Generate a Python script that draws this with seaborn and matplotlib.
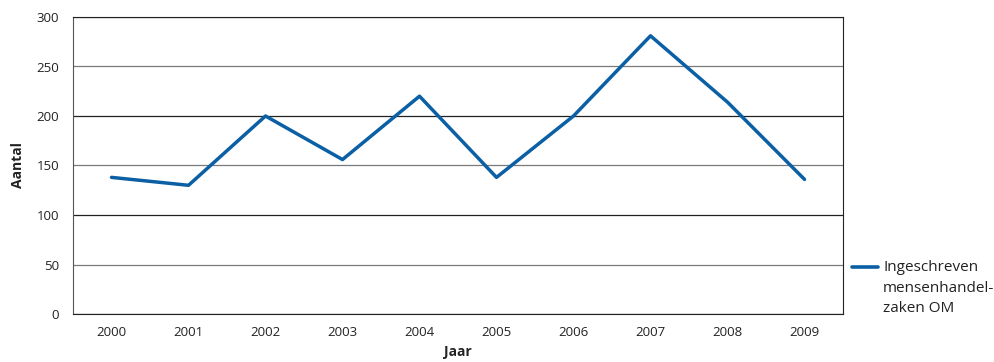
import matplotlib
matplotlib.use("Agg")
import matplotlib.pyplot as plt
import seaborn as sns
import pandas as pd
import numpy as np
from matplotlib.lines import Line2D

years = ["2000", "2001", "2002", "2003", "2004", "2005", "2006", "2007", "2008", "2009"]
cases = [138, 130, 200, 156, 220, 138, 200, 281, 214, 136]
series_name = "Ingeschreven\nmensenhandel-\nzaken OM"
y_ticks = [0, 50, 100, 150, 200, 250, 300]

sns.set_theme(style="white")
plt.rcParams['font.family'] = ['Open Sans', 'DejaVu Sans']

df = pd.DataFrame({"pos": np.arange(len(years)), "Aantal": cases, "serie": series_name})

fig = plt.figure(figsize=(9.95, 3.62), dpi=100)
ax = fig.add_axes([73/995, 1-314/362, (843-73)/995, (314-17)/362])

line_color = "#0b5fa5"
sns.lineplot(data=df, x="pos", y="Aantal", hue="serie", palette=[line_color],
             linewidth=2.5, ax=ax, legend=False)

ax.set_xlim(-0.5, len(years) - 0.5)
ax.set_ylim(0, 300)
ax.set_yticks(y_ticks)
ax.set_yticklabels([str(v) for v in y_ticks], fontsize=9.5, color="#222222")
ax.set_xticks(np.arange(len(years)))
ax.set_xticklabels(years, fontsize=9.5, color="#222222")
ax.set_xticks(np.arange(len(years) + 1) - 0.5, minor=True)
ax.tick_params(axis="x", which="major", length=0, pad=9)
ax.tick_params(axis="x", which="minor", length=7, width=0.8, color="#222222", direction="out")
ax.tick_params(axis="y", which="major", length=6, width=0.8, color="#222222", direction="out", pad=4)

ax.yaxis.grid(True, linewidth=0.9)
for v, gl in zip(y_ticks, ax.yaxis.get_gridlines()):
    gl.set_color("#222222" if v % 100 == 0 else "#7a7a7a")
ax.set_axisbelow(True)

for side in ["left", "right", "bottom", "top"]:
    ax.spines[side].set_visible(True)
    ax.spines[side].set_linewidth(0.8)
    ax.spines[side].set_color("#222222")
ax.spines["left"].set_color("#555555")

ax.set_xlabel("Jaar", fontsize=10, fontweight="bold", labelpad=4, color="#222222")
ax.set_ylabel("Aantal", fontsize=10, fontweight="bold", labelpad=8, color="#222222")

fs = 11
handle = Line2D([0], [0], color=line_color, linewidth=2.6)
leg = fig.legend([handle], [series_name], loc="upper left",
                 bbox_to_anchor=(852/995, 1-260/362), frameon=False, fontsize=fs,
                 handlelength=1.7, handletextpad=0.33, borderpad=0, borderaxespad=0)
line_step_pt = 14.9
for t in leg.get_texts():
    t.set_linespacing(1.5)
    t.set_color("#222222")
for h in leg.legend_handles:
    yd = np.asarray(h.get_ydata(), dtype=float)
    h.set_ydata(yd + line_step_pt)

fig.savefig("out.png", dpi=100)
